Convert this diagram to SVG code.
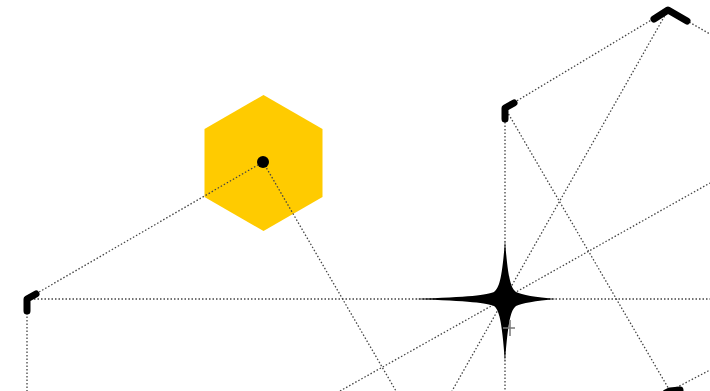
<svg xmlns="http://www.w3.org/2000/svg" width="710" height="391" viewBox="0 0 710 391">
<style>
.e{stroke:#444;stroke-width:1.3;stroke-dasharray:1.5 2;fill:none}
.m{stroke:#000;stroke-width:7;stroke-linecap:round;stroke-linejoin:round;fill:none}
</style>
<rect width="710" height="391" fill="#fff"/>
<g id="hexagon">
<polygon points="263.5,95 322.5,129 322.5,197 263.5,231 204.5,197 204.5,129" fill="#FFCB00"/>
</g>
<g id="edges">
<line class="e" x1="27" y1="299" x2="263" y2="162"/>
<line class="e" x1="27" y1="299" x2="710" y2="299"/>
<line class="e" x1="27" y1="299" x2="27" y2="391"/>
<line class="e" x1="263" y1="162" x2="396" y2="391"/>
<line class="e" x1="505" y1="108" x2="668" y2="10"/>
<line class="e" x1="505" y1="108" x2="505" y2="391"/>
<line class="e" x1="505" y1="108" x2="670" y2="391"/>
<line class="e" x1="668" y1="10" x2="452" y2="391"/>
<line class="e" x1="340" y1="391" x2="710" y2="183"/>
<line class="e" x1="668" y1="10" x2="710" y2="34"/>
<line class="e" x1="670" y1="391" x2="710" y2="370"/>
</g>
<g id="node-hex-center">
<circle cx="263" cy="162" r="6" fill="#000"/>
</g>
<g id="node-a">
<polyline class="m" points="36,294 27,299 27,311"/>
</g>
<g id="node-b">
<polyline class="m" points="514,103 505,108 505,119"/>
</g>
<g id="node-c">
<polyline class="m" points="654,19 668,10 687,21"/>
</g>
<g id="node-d">
<polyline class="m" points="666,393 670,391 680,390"/>
</g>
<g id="node-star">
<path d="M415,299 C470,297 487,295 494,292 C499,288 502,280 505,240 C508,280 511,288 516,292 C522,295 535,297 556,299 C535,301 522,303 516,306 C511,310 508,320 505,362 C502,320 499,310 494,306 C487,303 470,301 415,299 Z" fill="#000"/>
<path d="M510,320 V336 M503,328 H515" stroke="#777" stroke-width="1.5" fill="none"/>
</g>
</svg>
